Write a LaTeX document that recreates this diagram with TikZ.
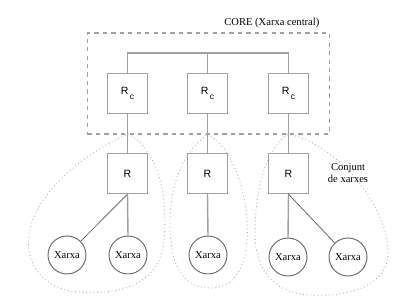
\documentclass[tikz,border=0pt]{standalone}
\usepackage{fontspec}
\setmainfont{Liberation Serif}
\setsansfont{Liberation Sans}
\usepackage{xcolor}
\usepackage{tikz}
\usetikzlibrary{positioning,calc}
\definecolor{boxgray}{RGB}{160,160,160}
\definecolor{linegray}{RGB}{110,110,110}

\begin{document}
\begin{tikzpicture}[x=0.025cm,y=-0.025cm,font=\fontsize{7.5}{9}\selectfont,
  router/.style={draw=boxgray,line width=1pt,fill=white,minimum size=1cm,inner sep=0pt,font=\sffamily\fontsize{7.5}{9}\selectfont},
  net/.style={draw=linegray,circle,line width=0.7pt,fill=white,minimum size=0.95cm,inner sep=0pt},
  link/.style={draw=boxgray,line width=1pt},
  sublink/.style={draw=linegray,line width=0.6pt},
  group/.style={draw=gray!70,dotted,line width=0.6pt}
]
  \useasboundingbox (0,0) rectangle (409,307);
  % core
  \node[draw=boxgray,dashed,line width=1pt,minimum width=6.05cm,minimum height=2.52cm] (core) at (208.5,83.5) {};
  \node[anchor=south east,inner sep=1pt] (corelbl) at (321,29) {CORE (Xarxa central)};
  \node[router] (rc1) at (127.5,93.5) {R\raisebox{-0.8ex}{\fontsize{6}{7}\selectfont\,c}};
  \node[router] (rc2) at (207.5,93.5) {R\raisebox{-0.8ex}{\fontsize{6}{7}\selectfont\,c}};
  \node[router] (rc3) at (288.5,93.5) {R\raisebox{-0.8ex}{\fontsize{6}{7}\selectfont\,c}};
  \coordinate (bus) at (207.5,53);
  % groups of networks
  \draw[group] (128,134) .. controls (160,150) and (168,200) .. (164,240)
    .. controls (160,285) and (120,295) .. (80,292)
    .. controls (40,290) and (25,260) .. (29,235)
    .. controls (35,190) and (90,150) .. cycle;
  \draw[group] (208,134) .. controls (235,150) and (250,200) .. (247,240)
    .. controls (244,280) and (225,289) .. (208,288)
    .. controls (180,287) and (170,260) .. (170,225)
    .. controls (170,180) and (185,150) .. cycle;
  \draw[group] (288,134) .. controls (340,145) and (390,210) .. (388,255)
    .. controls (386,290) and (340,297) .. (310,295)
    .. controls (270,293) and (255,265) .. (255,235)
    .. controls (255,190) and (265,150) .. cycle;
  \node[router] (r1) at (127.5,173.5) {R};
  \node[router] (r2) at (207.5,173.5) {R};
  \node[router] (r3) at (288.5,173.5) {R};
  \node[net] (n1) at (67,255) {Xarxa};
  \node[net] (n2) at (128,255) {Xarxa};
  \node[net] (n3) at (208,255) {Xarxa};
  \node[net] (n4) at (288,257) {Xarxa};
  \node[net] (n5) at (348,257) {Xarxa};
  \node[align=center,inner sep=0pt] (conj) at (348,173) {Conjunt\\de xarxes};
  % links
  \draw[link] (rc1.north) |- (bus) -| (rc3.north);
  \draw[link] (rc2.north) -- (bus);
  \draw[link] (rc1.south) -- (r1.north);
  \draw[link] (rc2.south) -- (r2.north);
  \draw[link] (rc3.south) -- (r3.north);
  \draw[sublink] (r1.south) -- (n1);
  \draw[link] (r1.south) -- (n2.north);
  \draw[link] (r2.south) -- (n3.north);
  \draw[link] (r3.south) -- (n4.north);
  \draw[sublink] (r3.south) -- (n5);
\end{tikzpicture}
\end{document}
